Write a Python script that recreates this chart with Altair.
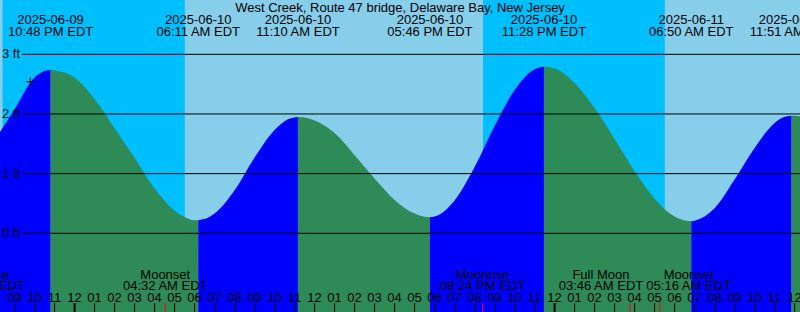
import altair as alt
import pandas as pd

TITLE = "West Creek, Route 47 bridge, Delaware Bay, New Jersey"
FONT = "Liberation Sans"

# Water level (feet): hourly, plus the turning points and a few points near them
tide_time = [
    "2025-06-09 20:00", "2025-06-09 21:00", "2025-06-09 22:00", "2025-06-09 22:30", "2025-06-09 22:48",
    "2025-06-09 23:00", "2025-06-10 00:00", "2025-06-10 01:00", "2025-06-10 02:00", "2025-06-10 03:00",
    "2025-06-10 04:00", "2025-06-10 05:00", "2025-06-10 05:40", "2025-06-10 06:00", "2025-06-10 06:11",
    "2025-06-10 06:40", "2025-06-10 07:00", "2025-06-10 08:00", "2025-06-10 09:00", "2025-06-10 10:00",
    "2025-06-10 10:40", "2025-06-10 11:10", "2025-06-10 11:40", "2025-06-10 12:00", "2025-06-10 13:00",
    "2025-06-10 14:00", "2025-06-10 15:00", "2025-06-10 16:00", "2025-06-10 17:00", "2025-06-10 17:15",
    "2025-06-10 17:46", "2025-06-10 18:00", "2025-06-10 19:00", "2025-06-10 20:00", "2025-06-10 21:00",
    "2025-06-10 22:00", "2025-06-10 23:00", "2025-06-10 23:28", "2025-06-11 00:00", "2025-06-11 01:00",
    "2025-06-11 02:00", "2025-06-11 03:00", "2025-06-11 04:00", "2025-06-11 05:00", "2025-06-11 06:00",
    "2025-06-11 06:20", "2025-06-11 06:50", "2025-06-11 07:00", "2025-06-11 08:00", "2025-06-11 09:00",
    "2025-06-11 10:00", "2025-06-11 11:00", "2025-06-11 11:25", "2025-06-11 11:51", "2025-06-11 12:00",
    "2025-06-11 13:00",
]
tide_ft = [
    1.56, 2.08, 2.61, 2.72, 2.74,
    2.73, 2.61, 2.25, 1.76, 1.26,
    0.75, 0.38, 0.25, 0.22, 0.22,
    0.26, 0.33, 0.72, 1.27, 1.73,
    1.91, 1.95, 1.93, 1.89, 1.68,
    1.31, 0.92, 0.56, 0.33, 0.30,
    0.27, 0.28, 0.55, 1.11, 1.80,
    2.40, 2.75, 2.79, 2.76, 2.52,
    2.10, 1.58, 1.04, 0.58, 0.28,
    0.23, 0.20, 0.21, 0.42, 0.90,
    1.43, 1.85, 1.94, 1.97, 1.97,
    1.88,
]

# High / low tide events (top labels)
event_time = ["2025-06-09 22:48", "2025-06-10 06:11", "2025-06-10 11:10", "2025-06-10 17:46",
              "2025-06-10 23:28", "2025-06-11 06:50", "2025-06-11 11:51"]
event_date = ["2025-06-09", "2025-06-10", "2025-06-10", "2025-06-10",
              "2025-06-10", "2025-06-11", "2025-06-11"]
event_clock = ["10:48 PM EDT", "06:11 AM EDT", "11:10 AM EDT", "05:46 PM EDT",
               "11:28 PM EDT", "06:50 AM EDT", "11:51 AM EDT"]

# Moon events (red ticks at the event, labels spread apart where they would collide)
moon_time = ["2025-06-09 19:22", "2025-06-10 04:32", "2025-06-10 20:24", "2025-06-11 03:46", "2025-06-11 05:16"]
moon_label_time = ["2025-06-09 19:22", "2025-06-10 04:32", "2025-06-10 20:24", "2025-06-11 02:19", "2025-06-11 06:42"]
moon_name = ["Moonrise", "Moonset", "Moonrise", "Full Moon", "Moonset"]
moon_clock = ["07:22 PM EDT", "04:32 AM EDT", "08:24 PM EDT", "03:46 AM EDT", "05:16 AM EDT"]

# Sun: sunset, sunrise, sunset, sunrise (day / night background)
sun_time = ["2025-06-09 20:23", "2025-06-10 05:31", "2025-06-10 20:25", "2025-06-11 05:31"]

# Depth grid
level_ft = [0, 1, 2, 3]

# Current-time mark on the curve
mark_time = ["2025-06-09 21:47"]
mark_ft = [2.54]

# ---------------------------------------------------------------- tables
tide = pd.DataFrame({"t": pd.to_datetime(tide_time), "ft": tide_ft})
turns = list(pd.to_datetime(event_time))
bounds = [tide.t.min()] + turns + [tide.t.max()]
segs = []
for i in range(len(bounds) - 1):
    s = tide[(tide.t >= bounds[i]) & (tide.t <= bounds[i + 1])].copy()
    s["seg"] = i
    s["phase"] = "rising" if s.ft.iloc[-1] > s.ft.iloc[0] else "falling"
    segs.append(s)
tide_seg = pd.concat(segs, ignore_index=True)

edges = ["2025-06-09 20:00"] + sun_time + ["2025-06-11 13:00"]
bands = pd.DataFrame({
    "start": pd.to_datetime(edges[:-1]),
    "end": pd.to_datetime(edges[1:]),
    "kind": ["day", "night", "day", "night", "day"],
})
events = pd.DataFrame({"t": pd.to_datetime(event_time), "date": event_date, "clock": event_clock})
moon = pd.DataFrame({"t": pd.to_datetime(moon_time), "lt": pd.to_datetime(moon_label_time),
                     "name": moon_name, "clock": moon_clock})
hours = pd.DataFrame({"t": pd.date_range("2025-06-09 21:00", "2025-06-11 12:00", freq="h")})
levels = pd.DataFrame({"ft": level_ft, "lab": [f"{v} ft" for v in level_ft]})
marker = pd.DataFrame({"t": pd.to_datetime(mark_time), "ft": mark_ft})
title = pd.DataFrame({"title": [TITLE]})

# ---------------------------------------------------------------- scales
xscale = alt.Scale(
    domain=[alt.DateTime(year=2025, month=6, date=9, hours=20, minutes=16, seconds=12),
            alt.DateTime(year=2025, month=6, date=11, hours=12, minutes=16, seconds=12)],
    nice=False,
)
yscale = alt.Scale(domain=[-1.319, 3.910], nice=False, zero=False)


def X(f):
    return alt.X(f, type="temporal", scale=xscale, axis=None)


txt = dict(font=FONT, fontSize=13, color="black")

bg = alt.Chart(bands).mark_rect().encode(
    x=X("start"), x2="end",
    y=alt.value(0), y2=alt.value(312),
    fill=alt.Fill("kind:N", scale=alt.Scale(domain=["day", "night"], range=["#87ceeb", "#00bfff"]), legend=None),
)

water = alt.Chart(tide_seg).mark_area(interpolate="monotone").encode(
    x=X("t"),
    y=alt.Y("ft:Q", scale=yscale, axis=None, stack=False),
    y2=alt.value(312),
    color=alt.Color("phase:N", scale=alt.Scale(domain=["rising", "falling"], range=["#0000ff", "#2e8b57"]), legend=None),
    detail="seg:N",
)

grid = alt.Chart(levels).mark_rule(color="black", strokeWidth=1).encode(
    x=alt.value(22), x2=alt.value(800),
    y=alt.Y("ft:Q", scale=yscale, axis=None),
)
grid_lab = alt.Chart(levels).mark_text(align="left", baseline="alphabetic", dy=4, **txt).encode(
    x=alt.value(2),
    y=alt.Y("ft:Q", scale=yscale, axis=None),
    text="lab:N",
)

plus = alt.Chart(marker).mark_point(
    shape="M-1,0L1,0M0,-1L0,1", size=70, filled=False, stroke="black", strokeWidth=1, opacity=1
).encode(x=X("t"), y=alt.Y("ft:Q", scale=yscale, axis=None))

title_t = alt.Chart(title).mark_text(align="center", baseline="alphabetic", **txt).encode(
    x=alt.value(400), y=alt.value(11.7), text="title:N")

ev_date = alt.Chart(events).mark_text(align="center", baseline="alphabetic", **txt).encode(
    x=X("t"), y=alt.value(23.5), text="date:N")
ev_clock = alt.Chart(events).mark_text(align="center", baseline="alphabetic", **txt).encode(
    x=X("t"), y=alt.value(35.5), text="clock:N")

moon_name_t = alt.Chart(moon).mark_text(align="center", baseline="alphabetic", **txt).encode(
    x=X("lt"), y=alt.value(278.5), text="name:N")
moon_clock_t = alt.Chart(moon).mark_text(align="center", baseline="alphabetic", **txt).encode(
    x=X("lt"), y=alt.value(290.3), text="clock:N")
moon_tick = alt.Chart(moon).mark_rule(color="#ff0000", strokeWidth=1).encode(
    x=X("t"), y=alt.value(303), y2=alt.value(312))

hour_tick = alt.Chart(hours).mark_rule(color="black").encode(
    x=X("t"), y=alt.value(303), y2=alt.value(312),
    strokeWidth=alt.condition("hours(datum.t) == 0", alt.value(2), alt.value(1)),
)
hour_lab = alt.Chart(hours).mark_text(align="center", baseline="alphabetic", **txt).encode(
    x=X("t"), y=alt.value(302), text=alt.Text("t:T", format="%I"))

chart = alt.layer(
    bg, water, grid, grid_lab, plus, title_t, ev_date, ev_clock,
    moon_name_t, moon_clock_t, hour_tick, moon_tick, hour_lab,
).resolve_scale(
    color="independent", fill="independent",
).properties(
    width=800, height=312, padding=0, autosize=alt.AutoSizeParams(type="none"),
).configure_view(strokeWidth=0)

chart.save("out.html", embed_options={"renderer": "svg", "actions": False})
